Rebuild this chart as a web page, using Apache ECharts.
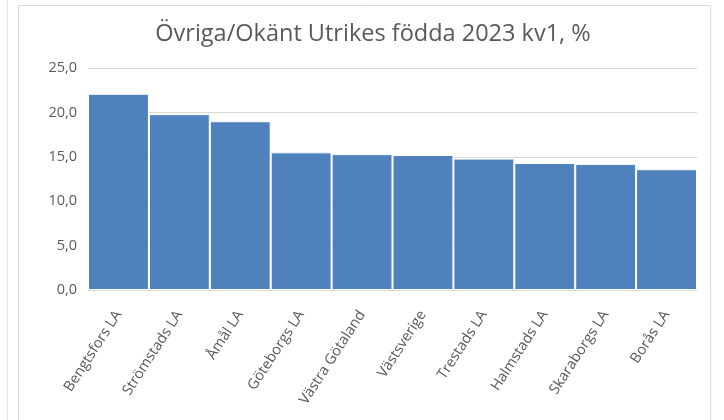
<!DOCTYPE html>
<html>
<head>
<meta charset="utf-8">
<script src="https://cdn.jsdelivr.net/npm/echarts@6/dist/echarts.min.js"></script>
<style>
  html, body { margin: 0; padding: 0; background: #fff; }
  #chart { width: 724px; height: 420px; }
</style>
</head>
<body>
<div id="chart"></div>
<script>
const categories = [
  "Bengtsfors LA", "Strömstads LA", "Åmål LA", "Göteborgs LA", "Västra Götaland",
  "Västsverige", "Trestads LA", "Halmstads LA", "Skaraborgs LA", "Borås LA"
];
const values = [22.1, 19.8, 19.0, 15.5, 15.3, 15.2, 14.8, 14.3, 14.2, 13.6];
const yTicks = { min: 0, max: 25, interval: 5 };

const chart = echarts.init(document.getElementById("chart"));
const fontFamily = "'Open Sans', 'Noto Sans', sans-serif";

chart.setOption({
  animation: false,
  textStyle: { fontFamily: fontFamily },
  title: {
    text: "Övriga/Okänt Utrikes födda 2023 kv1, %",
    left: 368,
    top: 17,
    textAlign: "center",
    textStyle: { fontSize: 23.5, fontWeight: "normal", color: "#595959", fontFamily: fontFamily }
  },
  graphic: [
    {
      type: "rect",
      shape: { x: 18.5, y: 5.5, width: 692, height: 420 },
      style: { fill: "none", stroke: "#d9d9d9", lineWidth: 1 },
      silent: true
    },
    {
      type: "line",
      shape: { x1: 7.5, y1: 0, x2: 7.5, y2: 420 },
      style: { stroke: "#e6e6e6", lineWidth: 1 },
      silent: true
    }
  ],
  grid: { left: 88, right: 27, top: 68, bottom: 130 },
  xAxis: {
    type: "category",
    data: categories,
    axisTick: { show: false },
    axisLine: { lineStyle: { color: "#d9d9d9" } },
    axisLabel: {
      rotate: 57,
      interval: 0,
      color: "#595959",
      fontSize: 14.5,
      margin: 22
    }
  },
  yAxis: {
    type: "value",
    min: yTicks.min,
    max: yTicks.max,
    interval: yTicks.interval,
    axisLine: { show: false },
    axisTick: { show: false },
    splitLine: { lineStyle: { color: "#d9d9d9" } },
    axisLabel: {
      color: "#595959",
      fontSize: 14.5,
      margin: 11,
      formatter: (v) => v.toFixed(1).replace(".", ",")
    }
  },
  series: [
    {
      type: "bar",
      data: values,
      barCategoryGap: 0,
      itemStyle: { color: "#4F81BD", borderColor: "#ffffff", borderWidth: 1 }
    }
  ]
});
</script>
</body>
</html>
